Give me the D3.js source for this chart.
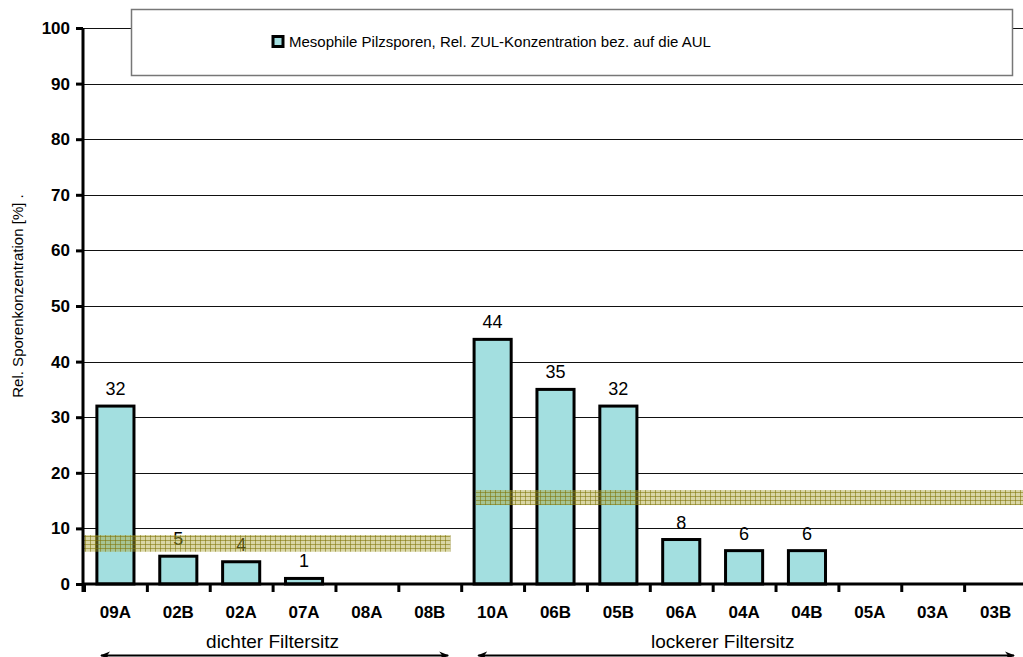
<!DOCTYPE html>
<html>
<head>
<meta charset="utf-8">
<script src="https://cdn.jsdelivr.net/npm/d3@7"></script>
<style>
  body { margin: 0; background: #fff; }
  svg { display: block; font-family: "Liberation Sans", Arial, sans-serif; }
</style>
</head>
<body>
<div id="chart"></div>
<script>
// data
const categories = ["09A", "02B", "02A", "07A", "08A", "08B", "10A", "06B", "05B", "06A", "04A", "04B", "05A", "03A", "03B"];
const values = [32, 5, 4, 1, null, null, 44, 35, 32, 8, 6, 6, null, null, null];
const yTicks = [0, 10, 20, 30, 40, 50, 60, 70, 80, 90, 100];
const seriesName = "Mesophile Pilzsporen, Rel. ZUL-Konzentration bez. auf die AUL";
const yTitle = "Rel. Sporenkonzentration [%] .";

// hatched reference bands (category index from/to, value low/high)
const bandFrom = [0, 6.25];
const bandTo = [5.83, 15];
const bandLow = [5.8, 14.2];
const bandHigh = [8.8, 16.9];

// groups under the axis
const groupNames = ["dichter Filtersitz", "lockerer Filtersitz"];
const groupFrom = [0, 6];
const groupTo = [6, 15];
const groupLabelAt = [3, 10.16];

const W = 1023, H = 657;
const plotLeft = 83, plotRight = 1027, plotTop = 28, plotBottom = 584;

const svg = d3.select("#chart").append("svg")
    .attr("width", W)
    .attr("height", H);

const y = d3.scaleLinear().domain([0, 100]).range([plotBottom, plotTop]);
const x = d3.scaleBand().domain(categories).range([plotLeft + 1, plotRight])
    .paddingInner(0.41).paddingOuter(0.205);
const xi = d3.scaleLinear().domain([0, categories.length]).range([plotLeft + 1, plotRight]);

// pattern for the bands
const defs = svg.append("defs");
const pat = defs.append("pattern")
    .attr("id", "grid")
    .attr("patternUnits", "userSpaceOnUse")
    .attr("width", 5).attr("height", 4);
pat.append("rect").attr("width", 5).attr("height", 4).attr("fill", "rgba(170,165,55,0.45)");
pat.append("path").attr("d", "M0,0.5H5M0.5,0V4")
    .attr("stroke", "rgba(125,115,5,0.55)").attr("stroke-width", 1);

// gridlines
svg.append("g")
    .selectAll("line")
    .data(yTicks.filter(d => d > 0))
    .enter().append("line")
    .attr("x1", plotLeft).attr("x2", W)
    .attr("y1", d => Math.round(y(d)) + 0.5)
    .attr("y2", d => Math.round(y(d)) + 0.5)
    .attr("stroke", "#111")
    .attr("stroke-width", 1);

// bars
const bars = categories.map((c, i) => ({ key: c, value: values[i] })).filter(d => d.value != null);

svg.append("g")
    .selectAll("rect")
    .data(bars)
    .enter().append("rect")
    .attr("x", d => x(d.key))
    .attr("y", d => y(d.value))
    .attr("width", x.bandwidth())
    .attr("height", d => plotBottom - y(d.value))
    .attr("fill", "#a3dfe0")
    .attr("stroke", "#000")
    .attr("stroke-width", 3);

svg.append("g")
    .selectAll("text")
    .data(bars)
    .enter().append("text")
    .attr("x", d => x(d.key) + x.bandwidth() / 2)
    .attr("y", d => y(d.value) - 11)
    .attr("text-anchor", "middle")
    .style("font-size", "18px")
    .text(d => d.value);

// bands
svg.append("g")
    .selectAll("rect")
    .data(bandFrom.map((f, i) => ({ from: f, to: bandTo[i], lo: bandLow[i], hi: bandHigh[i] })))
    .enter().append("rect")
    .attr("x", d => xi(d.from) - 1)
    .attr("y", d => y(d.hi))
    .attr("width", d => xi(d.to) - xi(d.from) + 1)
    .attr("height", d => y(d.lo) - y(d.hi))
    .attr("fill", "url(#grid)");

// y axis
const yAxis = svg.append("g")
    .attr("transform", `translate(${plotLeft},0)`)
    .call(d3.axisLeft(y).tickValues(yTicks).tickSize(7).tickPadding(6).tickSizeOuter(0));
yAxis.select(".domain").attr("stroke-width", 3).attr("d", `M0,${plotTop}V${plotBottom + 8}`);
yAxis.selectAll(".tick line").attr("stroke-width", 3);
yAxis.selectAll(".tick text")
    .style("font-size", "17px").style("font-weight", "bold").attr("fill", "#000");

// x axis: boundary ticks
const xTicks = svg.append("g")
    .attr("transform", `translate(0,${plotBottom})`)
    .call(d3.axisBottom(xi).tickValues(d3.range(0, categories.length + 1)).tickSize(8).tickFormat(""));
xTicks.select(".domain").attr("stroke-width", 3).attr("d", `M${plotLeft},0H${W}`);
xTicks.selectAll(".tick line").attr("stroke-width", 3);

// x axis: labels
const xLabels = svg.append("g")
    .attr("transform", `translate(0,${plotBottom})`)
    .call(d3.axisBottom(x).tickSize(0).tickPadding(22));
xLabels.select(".domain").remove();
xLabels.selectAll(".tick text")
    .style("font-size", "17px").style("font-weight", "bold").attr("fill", "#000");

// group labels and arrows
defs.append("marker")
    .attr("id", "arr")
    .attr("viewBox", "0 0 10 10")
    .attr("refX", 9).attr("refY", 5)
    .attr("markerWidth", 5).attr("markerHeight", 5)
    .attr("orient", "auto-start-reverse")
    .append("path").attr("d", "M0,1L10,5L0,9L3,5Z").attr("fill", "#000");

const groups = svg.append("g");
groupNames.forEach((g, i) => {
    groups.append("text")
        .attr("x", xi(groupLabelAt[i]))
        .attr("y", 648)
        .attr("text-anchor", "middle")
        .style("font-size", "19px")
        .text(g);
    groups.append("line")
        .attr("x1", xi(groupFrom[i]) + 17)
        .attr("x2", xi(groupTo[i]) - 13)
        .attr("y1", 655.5).attr("y2", 655.5)
        .attr("stroke", "#000")
        .attr("stroke-width", 2)
        .attr("marker-start", "url(#arr)")
        .attr("marker-end", "url(#arr)");
});

// y title
svg.append("text")
    .attr("transform", "translate(23,296) rotate(-90)")
    .attr("text-anchor", "middle")
    .style("font-size", "15px")
    .text(yTitle);

// legend
const legend = svg.append("g");
legend.append("rect")
    .attr("x", 131.5).attr("y", 9.5)
    .attr("width", 881).attr("height", 66)
    .attr("fill", "#fff")
    .attr("stroke", "#777")
    .attr("stroke-width", 1.5);
legend.append("rect")
    .attr("x", 273).attr("y", 36.5)
    .attr("width", 10).attr("height", 10)
    .attr("fill", "#a3dfe0")
    .attr("stroke", "#000")
    .attr("stroke-width", 3);
legend.append("text")
    .attr("x", 289).attr("y", 47)
    .style("font-size", "15px")
    .text(seriesName);
</script>
</body>
</html>
